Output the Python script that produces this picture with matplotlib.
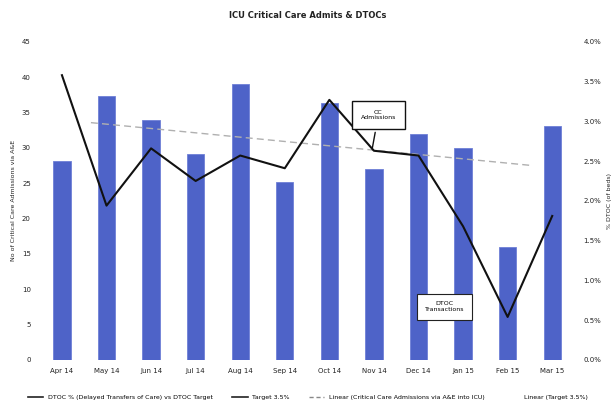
import matplotlib
matplotlib.use("Agg")
import matplotlib.pyplot as plt
from matplotlib.lines import Line2D
import numpy as np

months = ["Apr 14", "May 14", "Jun 14", "Jul 14", "Aug 14", "Sep 14",
          "Oct 14", "Nov 14", "Dec 14", "Jan 15", "Feb 15", "Mar 15"]
cc_admissions = [28.1, 37.3, 34.0, 29.1, 39.1, 25.1, 36.3, 27.0, 32.0, 30.0, 16.0, 33.1]
dtoc_pct = [3.58, 1.94, 2.66, 2.25, 2.57, 2.41, 3.27, 2.63, 2.57, 1.68, 0.54, 1.81]
left_ticks = [0, 5, 10, 15, 20, 25, 30, 35, 40, 45]
right_ticks = [0.0, 0.5, 1.0, 1.5, 2.0, 2.5, 3.0, 3.5, 4.0]

fig = plt.figure(figsize=(6.16, 4.18), dpi=100)
ax = fig.add_axes([0.068, 0.139, 0.861, 0.761])
ax2 = ax.twinx()

x = np.arange(len(months))
ax.bar(x, cc_admissions, width=0.39, color="#4e63c8", edgecolor="#6f80d6",
       linewidth=0.6, zorder=2)

# linear trend of the admissions bars
coef = np.polyfit(x, cc_admissions, 1)
xt = np.array([0.65, 10.5])
ax.plot(xt, np.polyval(coef, xt), color="#b0b0b0", lw=1.0,
        linestyle=(0, (5, 3)), zorder=3)

ax2.plot(x, dtoc_pct, color="#111111", lw=1.5, zorder=4)

ax.set_xlim(-0.45, 11.45)
ax.set_ylim(0, 45)
ax2.set_ylim(0, 4.0)
ax.set_yticks(left_ticks)
ax.set_yticklabels([str(t) for t in left_ticks])
ax2.set_yticks(right_ticks)
ax2.set_yticklabels([f"{t:.1f}%" for t in right_ticks])
ax.set_xticks(x)
ax.set_xticklabels(months)

for a in (ax, ax2):
    for s in a.spines.values():
        s.set_visible(False)
    a.tick_params(length=0, labelsize=5, colors="#222222", pad=8)
ax.tick_params(axis="x", pad=6)

ax.set_ylabel("No of Critical Care Admissions via A&E", fontsize=4.5,
              color="#222222", labelpad=4)
ax2.set_ylabel("% DTOC (of beds)", fontsize=4.5, color="#222222", labelpad=4)

fig.text(0.5, 0.963, "ICU Critical Care Admits & DTOCs", ha="center",
         va="center", fontsize=6, fontweight="bold", color="#222222")

# callout boxes
ax2.annotate("CC\nAdmissions", xy=(6.95, 2.62), xytext=(7.1, 3.08),
             fontsize=4.5, ha="center", va="center", zorder=6,
             bbox=dict(boxstyle="square,pad=1.4", fc="white", ec="#111111", lw=1.0),
             arrowprops=dict(arrowstyle="-", color="#111111", lw=1.0))
ax2.text(8.58, 0.67, "DTOC\nTransactions", fontsize=4.5, ha="center", va="center",
         zorder=6, bbox=dict(boxstyle="square,pad=1.2", fc="white", ec="#222222", lw=0.8))

handles = [Line2D([], [], color="#222222", lw=1.2),
           Line2D([], [], color="#222222", lw=1.2),
           Line2D([], [], color="#888888", lw=1.0, linestyle=(0, (3, 2))),
           Line2D([], [], color="none")]
labels = ["DTOC % (Delayed Transfers of Care) vs DTOC Target",
          "Target 3.5%",
          "Linear (Critical Care Admissions via A&E into ICU)",
          "Linear (Target 3.5%)"]
fig.legend(handles, labels, loc="center", bbox_to_anchor=(0.5, 0.05), ncol=4,
           frameon=False, fontsize=4.5, handlelength=2.5, columnspacing=3)

fig.savefig("out.png", dpi=100)
